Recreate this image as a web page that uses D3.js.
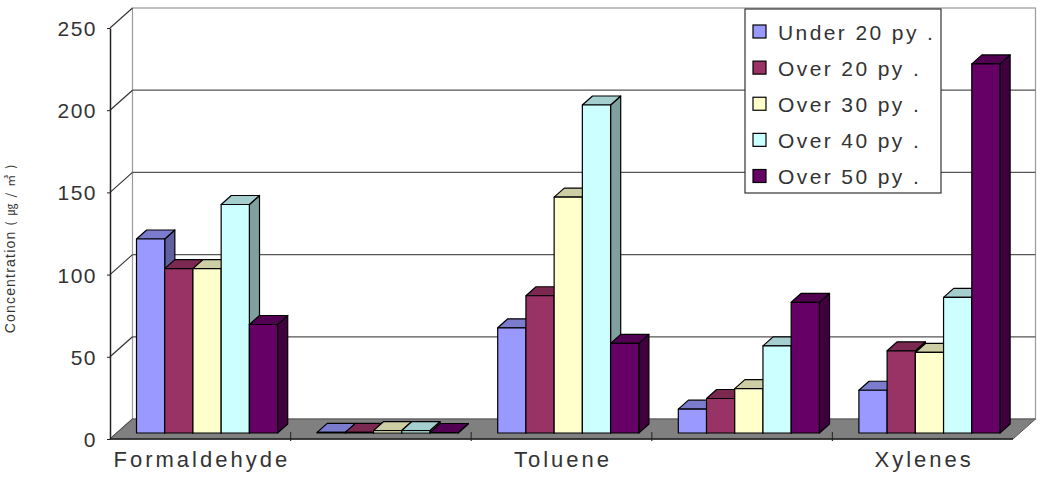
<!DOCTYPE html>
<html>
<head>
<meta charset="utf-8">
<script src="https://cdn.jsdelivr.net/npm/d3@7"></script>
<style>
  html, body { margin: 0; padding: 0; background: #fff; }
  svg { display: block; font-family: "Liberation Sans", Arial, sans-serif; }
</style>
</head>
<body>
<svg id="chart" width="1046" height="486"></svg>
<script>
// data
var categories = ["Formaldehyde", "Benzene", "Toluene", "Ethylbenzene", "Xylenes"];
var seriesNames = ["Under 20 py.", "Over 20 py.", "Over 30 py.", "Over 40 py.", "Over 50 py."];
var seriesColors = ["#9999ff", "#993366", "#ffffcc", "#ccffff", "#660066"];
var under20 = [118, 0.4, 64, 14.5, 26];
var over20 = [100, 0.4, 83.5, 21, 50];
var over30 = [100, 1.5, 143.5, 27, 49];
var over40 = [139, 1.5, 199.5, 53, 82.5];
var over50 = [66, 0.3, 54.5, 79.5, 224.5];
var yTicks = [0, 50, 100, 150, 200, 250];

var seriesValues = [under20, over20, over30, over40, over50];

var svg = d3.select("#chart");

// wall depth vector (oblique projection)
var DX = 22.5, DY = -20;
var FRONT = 0.3, THICK = 0.45;

var x0 = d3.scaleBand().domain(categories).range([110, 1013]);
var x1 = d3.scaleBand().domain(seriesNames).range([0, x0.bandwidth()]).paddingOuter(0.7);
var y = d3.scaleLinear().domain([0, 250]).range([439, 28]);

var xL = x0.range()[0], xR = x0.range()[1];

// back wall
svg.append("rect")
	.attr("x", xL + DX).attr("y", y(250) + DY)
	.attr("width", xR - xL).attr("height", y(0) - y(250))
	.attr("fill", "#fff").attr("stroke", "#9a9a9a").attr("stroke-width", 1.2);

// gridlines on the back wall + left wall diagonals
var grid = svg.append("g");
yTicks.forEach(function (t) {
	if (t > 0 && t < 250) {
		grid.append("line")
			.attr("x1", xL + DX).attr("x2", xR + DX)
			.attr("y1", y(t) + DY).attr("y2", y(t) + DY)
			.attr("stroke", "#555").attr("stroke-width", 1.3);
	}
	grid.append("line")
		.attr("x1", xL).attr("y1", y(t))
		.attr("x2", xL + DX).attr("y2", y(t) + DY)
		.attr("stroke", "#333").attr("stroke-width", 1.2);
});

// floor
svg.append("polygon")
	.attr("points", [[xL, y(0)], [xR, y(0)], [xR + DX, y(0) + DY], [xL + DX, y(0) + DY]].join(" "))
	.attr("fill", "#808080").attr("stroke", "#555").attr("stroke-width", 1);

// category boundary ticks
svg.append("g").selectAll("line")
	.data(categories.slice(1))
	.join("line")
	.attr("x1", function (d) { return x0(d); })
	.attr("x2", function (d) { return x0(d); })
	.attr("y1", y(0) - 7).attr("y2", y(0) + 2)
	.attr("stroke", "#333").attr("stroke-width", 1.2);

// front axis lines
svg.append("line")
	.attr("x1", xL).attr("x2", xR).attr("y1", y(0)).attr("y2", y(0))
	.attr("stroke", "#222").attr("stroke-width", 1.5);

var yAxis = svg.append("g")
	.attr("transform", "translate(" + xL + ",0)")
	.call(d3.axisLeft(y).tickValues(yTicks).tickSizeInner(3).tickSizeOuter(0).tickPadding(10));
yAxis.select(".domain").attr("stroke", "#222").attr("stroke-width", 1.5);
yAxis.selectAll(".tick line").attr("stroke", "#222");
yAxis.selectAll(".tick text")
	.attr("font-size", 21).attr("fill", "#333")
	.attr("letter-spacing", 1.5)
	.attr("dy", "0.36em");

// x axis labels (every other, like the original)
var xAxis = svg.append("g")
	.attr("transform", "translate(0," + y(0) + ")")
	.call(d3.axisBottom(x0).tickSize(0).tickPadding(12)
		.tickFormat(function (d, i) { return i % 2 ? "" : d; }));
xAxis.select(".domain").remove();
xAxis.selectAll(".tick text")
	.attr("font-size", 22).attr("fill", "#333")
	.attr("letter-spacing", 3)
	.attr("dx", 1.5);

// bars
var bdx = THICK * DX, bdy = THICK * DY;
var fdx = FRONT * DX, fdy = FRONT * DY;
var bars = svg.append("g").attr("stroke", "#000").attr("stroke-width", 1.2).attr("stroke-linejoin", "round");
categories.forEach(function (c, ci) {
	seriesNames.forEach(function (s, si) {
		var v = seriesValues[si][ci];
		var col = d3.color(seriesColors[si]);
		var x = x0(c) + x1(s) + fdx;
		var w = x1.bandwidth();
		var yb = y(0) + fdy, yt = y(v) + fdy;
		var g = bars.append("g");
		g.append("polygon")
			.attr("points", [[x + w, yt], [x + w + bdx, yt + bdy], [x + w + bdx, yb + bdy], [x + w, yb]].join(" "))
			.attr("fill", col.darker(1.3));
		g.append("polygon")
			.attr("points", [[x, yt], [x + w, yt], [x + w + bdx, yt + bdy], [x + bdx, yt + bdy]].join(" "))
			.attr("fill", col.darker(0.6));
		g.append("rect")
			.attr("x", x).attr("y", yt)
			.attr("width", w).attr("height", Math.max(0, yb - yt))
			.attr("fill", col);
	});
});

// y axis title
var title = svg.append("text")
	.attr("transform", "translate(15,246) rotate(-90)")
	.attr("text-anchor", "middle")
	.attr("font-size", 14).attr("fill", "#333");
title.append("tspan").attr("letter-spacing", 1.2).text("Concentration ");
title.append("tspan")
	.attr("font-family", "'Noto Sans CJK KR', sans-serif")
	.attr("font-size", 12)
	.attr("letter-spacing", 6).text("(㎍/㎥)");

// legend
var legend = svg.append("g");
legend.append("rect")
	.attr("x", 745).attr("y", 9).attr("width", 196).attr("height", 184)
	.attr("fill", "#fff").attr("stroke", "#333").attr("stroke-width", 1.2);
var ly = d3.scalePoint().domain(seriesNames).range([31.5, 176]);
var item = legend.selectAll("g.item")
	.data(seriesNames)
	.join("g").attr("class", "item")
	.attr("transform", function (d) { return "translate(753," + ly(d) + ")"; });
item.append("rect")
	.attr("x", 0).attr("y", -6.5).attr("width", 13).attr("height", 13)
	.attr("fill", function (d, i) { return seriesColors[i]; })
	.attr("stroke", "#000").attr("stroke-width", 1.2);
item.append("text")
	.attr("x", 25).attr("y", 8)
	.attr("font-size", 21).attr("fill", "#333")
	.attr("letter-spacing", 2.4)
	.text(function (d) { return d.replace(".", " ."); });
</script>
</body>
</html>
